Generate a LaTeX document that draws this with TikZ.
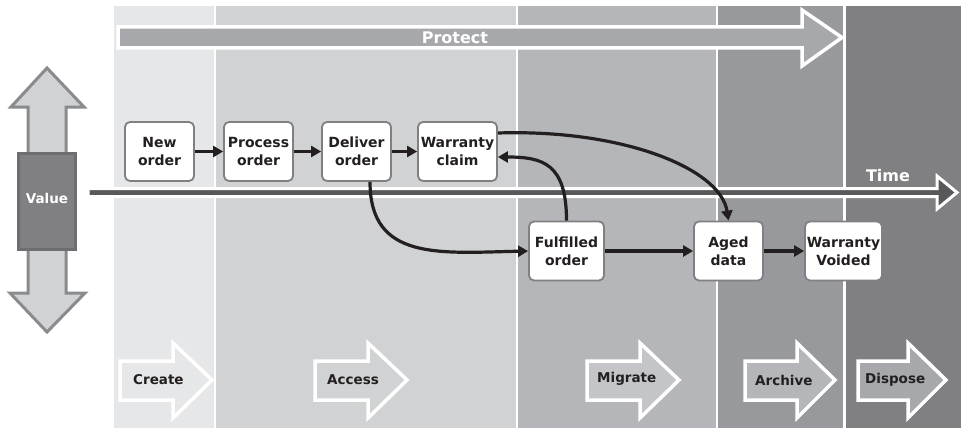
\documentclass[tikz,border=0pt]{standalone}
\usepackage{fontspec}
\setmainfont{DejaVu Sans}
\usetikzlibrary{arrows.meta}
\definecolor{cA}{HTML}{E6E7E8}
\definecolor{cB}{HTML}{D1D2D4}
\definecolor{cC}{HTML}{B5B6B9}
\definecolor{cD}{HTML}{98999C}
\definecolor{cE}{HTML}{808083}
\definecolor{darkline}{HTML}{58595B}
\definecolor{ink}{HTML}{231F20}
\definecolor{protectfill}{HTML}{A7A8AB}
\definecolor{valueedge}{HTML}{8A8B8E}
\definecolor{boxedge}{HTML}{6D6E71}
\tikzset{
  procbox/.style={draw=cE, line width=1.8pt, fill=white, rounded corners=5pt,
    minimum height=59pt, inner sep=0pt, align=center, text=ink,
    font=\fontsize{14}{18}\selectfont\bfseries},
  flow/.style={draw=ink, line width=3.2pt, -{Triangle[length=10pt,width=11pt]}},
  phasearrow/.style={draw=white, line width=3.5pt, line join=miter},
  phaselabel/.style={anchor=west, inner sep=0pt, text=ink, font=\fontsize{13.5}{16}\selectfont\bfseries},
  whitelabel/.style={inner sep=0pt, text=white, font=\fontsize{16}{18}\selectfont\bfseries},
}
\begin{document}
\begin{tikzpicture}[x=1pt,y=-1pt]
\useasboundingbox (0,0) rectangle (961,428);
\fill[white] (0,0) rectangle (961,428);
% columns
\fill[cA] (114,6) rectangle (214,428);
\fill[cB] (216,6) rectangle (515.5,428);
\fill[cC] (517.5,6) rectangle (716,428);
\fill[cD] (718,6) rectangle (843,428);
\fill[cE] (845.5,6) rectangle (961,428);
% protect arrow
\draw[phasearrow, fill=protectfill] (118,27) -- (802,27) -- (802,10) -- (842,37.5) -- (802,66) -- (802,48) -- (118,48) -- cycle;
\node[whitelabel] (protect) at (455,38) {Protect};
% value double arrow
\draw[draw=valueedge, line width=3pt, fill=cB, line join=miter] (47,68) -- (11,107) -- (28,107) -- (28,160) -- (66,160) -- (66,107) -- (84,107) -- cycle;
\draw[draw=valueedge, line width=3pt, fill=cB, line join=miter] (47,332) -- (10,293) -- (28,293) -- (28,240) -- (66,240) -- (66,293) -- (85,293) -- cycle;
\draw[draw=boxedge, line width=3pt, fill=cE] (18.5,153.5) rectangle (75.5,249.5);
\node[inner sep=0pt, text=white, font=\fontsize{13.5}{16}\selectfont\bfseries] (value) at (47,198) {Value};
% time arrow
\draw[draw=white, line width=3pt, fill=darkline, line join=miter] (88,188.5) -- (937,188.5) -- (937,176) -- (957,192.5) -- (937,209) -- (937,196.5) -- (88,196.5) -- cycle;
\node[whitelabel] (time) at (888,176) {Time};
% phase arrows
\draw[phasearrow, fill=cA] (120,361) -- (173,361) -- (173,343) -- (212,380) -- (173,418) -- (173,400) -- (120,400) -- cycle;
\draw[phasearrow, fill=cB] (315,361) -- (368,361) -- (368,343) -- (407,380) -- (368,418) -- (368,400) -- (315,400) -- cycle;
\draw[phasearrow, fill=cB!55!cC] (587,361) -- (640,361) -- (640,343) -- (679,380) -- (640,418) -- (640,400) -- (587,400) -- cycle;
\draw[phasearrow, fill=cC] (745,361) -- (797,361) -- (797,343) -- (835,380) -- (797,418) -- (797,400) -- (745,400) -- cycle;
\draw[phasearrow, fill=protectfill] (858,361) -- (908,361) -- (908,343) -- (946,380) -- (908,418) -- (908,400) -- (858,400) -- cycle;
\node[phaselabel] (create) at (133,380) {Create};
\node[phaselabel] (access) at (327,380) {Access};
\node[phaselabel] (migrate) at (597,379) {Migrate};
\node[phaselabel] (archive) at (755,380) {Archive};
\node[phaselabel] (dispose) at (865,380) {Dispose};
% process nodes
\node[procbox, minimum width=69pt] (new) at (159.5,151.5) {New\\order};
\node[procbox, minimum width=69pt] (process) at (258.5,151.5) {Process\\order};
\node[procbox, minimum width=69pt] (deliver) at (356.5,151.5) {Deliver\\order};
\node[procbox, minimum width=79pt] (claim) at (457.5,151.5) {Warranty\\claim};
\node[procbox, minimum width=75pt] (fulfilled) at (566.5,251) {Fulfilled\\order};
\node[procbox, minimum width=69pt] (aged) at (728.5,251) {Aged\\data};
\node[procbox, minimum width=77pt] (voided) at (843.5,251) {Warranty\\Voided};
% connectors
\draw[flow] (new.east) -- (process.west);
\draw[flow] (process.east) -- (deliver.west);
\draw[flow] (deliver.east) -- (claim.west);
\draw[flow] (fulfilled.east) -- (aged.west);
\draw[flow] (aged.east) -- (voided.west);
\draw[flow] ([yshift=18.5pt]claim.east) .. controls +(125,-4) and +(-8,-52) .. (aged.north);
\draw[flow] (fulfilled.north) .. controls +(0,-57) and +(45,0) .. ([yshift=-5.5pt]claim.east);
\draw[flow] ([xshift=13.5pt]deliver.south) .. controls +(0,79) and +(-89,2) .. (fulfilled.west);
\end{tikzpicture}
\end{document}
